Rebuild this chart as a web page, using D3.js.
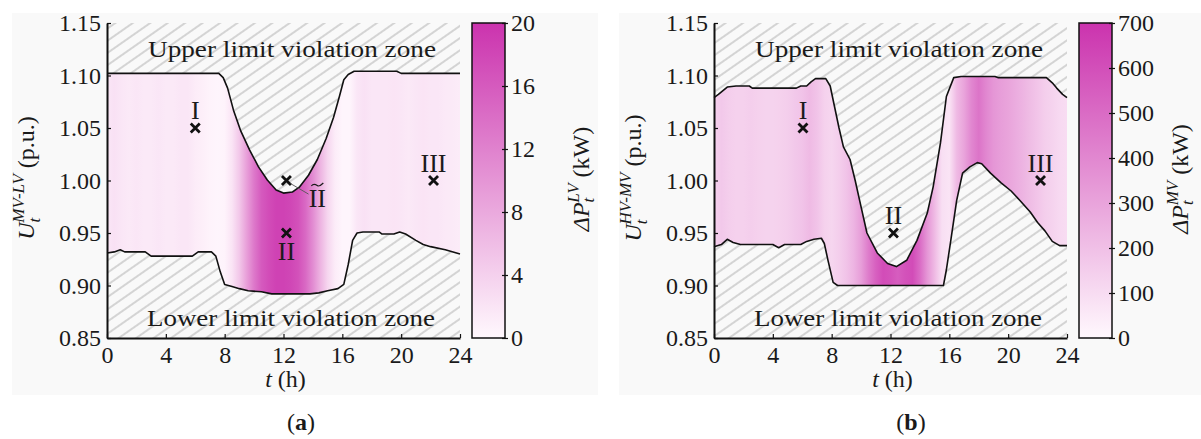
<!DOCTYPE html>
<html><head><meta charset="utf-8">
<script src="https://cdn.jsdelivr.net/npm/d3@7"></script>
<style>
body{margin:0;background:#fff}
svg{display:block}
text{font-family:"Liberation Serif","DejaVu Serif",serif;fill:#1a1a1a}
</style>
</head><body>
<svg id="c" width="1201" height="439"></svg>
<script>
// ---------------- DATA ----------------
const xTicks = [0, 4, 8, 12, 16, 20, 24];
const yTicks = [0.85, 0.90, 0.95, 1.00, 1.05, 1.10, 1.15];
const cbTicksLV = [0, 4, 8, 12, 16, 20];
const cbTicksMV = [0, 100, 200, 300, 400, 500, 600, 700];

// (a) MV-LV feasible voltage band boundaries [t (h), U (p.u.)]
const upperLV = [[0,1.102],[7.6,1.102],[7.9,1.098],[8.2,1.088],[8.6,1.067],[9.1,1.047],[9.7,1.029],[10.3,1.013],[10.9,1.0005],[11.5,0.991],[12.0,0.988],[12.6,0.989],[13.1,0.994],[13.7,1.005],[14.3,1.02],[14.9,1.04],[15.4,1.06],[15.8,1.08],[16.1,1.096],[16.4,1.101],[16.8,1.104],[19.7,1.104],[20.0,1.102],[24,1.102]];
const lowerLV = [[0,0.931],[0.5,0.932],[0.9,0.934],[1.2,0.932],[2.6,0.932],[3.0,0.928],[5.8,0.928],[6.2,0.932],[7.1,0.932],[7.4,0.928],[7.7,0.913],[8.0,0.901],[8.5,0.899],[9.0,0.897],[9.6,0.895],[10.5,0.894],[11.2,0.892],[13.8,0.892],[14.4,0.893],[15.0,0.895],[15.7,0.897],[16.1,0.901],[16.4,0.92],[16.7,0.943],[17.0,0.95],[17.4,0.951],[18.5,0.951],[18.7,0.949],[19.5,0.949],[19.9,0.951],[20.3,0.949],[21.0,0.943],[21.5,0.939],[22.0,0.937],[23.0,0.934],[24,0.930]];

// (b) HV-MV feasible voltage band boundaries
const upperMV = [[0,1.079],[0.3,1.082],[0.9,1.089],[1.5,1.09],[2.4,1.09],[2.6,1.088],[5.6,1.088],[5.9,1.09],[6.3,1.09],[6.6,1.094],[6.9,1.097],[7.6,1.097],[7.9,1.09],[8.2,1.07],[8.5,1.05],[8.8,1.032],[9.25,1.02],[9.6,1.0],[9.9,0.981],[10.4,0.95],[11.1,0.931],[11.8,0.921],[12.4,0.918],[13.1,0.924],[13.8,0.943],[14.5,0.969],[14.9,0.994],[15.4,1.036],[15.8,1.08],[16.3,1.098],[16.8,1.099],[19.1,1.099],[19.3,1.098],[22.6,1.098],[23.0,1.093],[23.3,1.088],[23.7,1.082],[24,1.079]];
const lowerMV = [[0,0.937],[0.5,0.939],[0.9,0.944],[1.3,0.941],[1.8,0.939],[4.0,0.939],[4.4,0.936],[4.8,0.939],[5.9,0.939],[6.3,0.942],[6.8,0.944],[7.3,0.945],[7.5,0.94],[7.75,0.924],[8.1,0.903],[8.4,0.900],[15.6,0.900],[15.8,0.915],[16.1,0.943],[16.5,0.981],[16.9,1.007],[17.4,1.013],[17.9,1.017],[18.2,1.016],[18.8,1.007],[19.5,0.998],[20.2,0.99],[20.8,0.981],[21.5,0.97],[22.0,0.96],[22.5,0.952],[23.0,0.942],[23.5,0.938],[24,0.938]];

// heat (power deviation) along time, every 0.5 h
const heatHours = d3.range(0, 24.01, 0.5);
const heatLV = [1.8,2.3,1.8,1.5,1.8,1.5,1.5,1.8,1.5,1.5,1.8,1.8,1.2,0.9,0.5,0.3,0.5,2,5,9,13,16,17.5,18.5,18.5,18,17,14.5,11,7,3.5,1.2,0.3,0.3,1.8,2.3,1.8,1.8,1.8,2,1.8,1.5,1.8,2,1.8,1.8,1.5,1.4,1.2];
const heatMV = [140,170,150,140,140,150,140,130,130,140,150,170,190,220,190,140,120,150,190,240,320,440,540,610,590,550,590,610,500,350,220,90,70,220,300,400,470,400,350,320,300,270,240,210,180,150,130,110,100];

// operating points
const pointsLV = [{t:6.0,u:1.05,lab:"I",pos:"above"},{t:12.2,u:1.00,lab:"",pos:"none"},{t:12.2,u:0.95,lab:"II",pos:"below"},{t:22.2,u:1.00,lab:"III",pos:"above"}];
const pointsMV = [{t:6.05,u:1.05,lab:"I",pos:"above"},{t:12.2,u:0.95,lab:"II",pos:"above"},{t:22.2,u:1.00,lab:"III",pos:"above"}];

// ---------------- DRAW ----------------
const svg = d3.select("#c");
const defs = svg.append("defs");
const pat = defs.append("pattern").attr("id","hatch").attr("patternUnits","userSpaceOnUse")
  .attr("width",10).attr("height",10).attr("patternTransform","rotate(-35)");
pat.append("line").attr("x1",0).attr("x2",10).attr("y1",5).attr("y2",5).attr("stroke","#9a9a9a").attr("stroke-width",0.8);

const colLo = "#fff8fd", colHi = "#cb33ae";
const FS = "24px";

svg.append("rect").attr("x",12).attr("y",13).attr("width",586).attr("height",382).attr("fill","#f9f9f9");
svg.append("rect").attr("x",619).attr("y",13).attr("width",582).attr("height",382).attr("fill","#f9f9f9");

function panel(cfg){
  const g = svg.append("g");
  const x = d3.scaleLinear().domain([0,24]).range([cfg.x0, cfg.x0+353]);
  const y = d3.scaleLinear().domain([0.85,1.15]).range([338,23]);
  const color = d3.scaleLinear().domain([0,cfg.cmax]).range([colLo,colHi]).interpolate(d3.interpolateRgb);

  // hatch background
  g.append("rect").attr("x",x(0)).attr("y",y(1.15)).attr("width",x(24)-x(0)).attr("height",y(0.85)-y(1.15))
    .attr("fill","url(#hatch)");

  // heat gradient
  const gid = "heat"+cfg.id;
  const grad = defs.append("linearGradient").attr("id",gid).attr("gradientUnits","userSpaceOnUse")
    .attr("x1",x(0)).attr("x2",x(24)).attr("y1",0).attr("y2",0);
  heatHours.forEach((h,i)=>grad.append("stop").attr("offset",h/24).attr("stop-color",color(cfg.heat[i])));

  // feasible band polygon
  const band = cfg.upper.map(d=>[x(d[0]),y(d[1])]).concat(cfg.lower.slice().reverse().map(d=>[x(d[0]),y(d[1])]));
  g.append("path").attr("d","M"+band.map(p=>p.join(",")).join("L")+"Z").attr("fill",`url(#${gid})`);

  const line = d3.line().x(d=>x(d[0])).y(d=>y(d[1]));
  [cfg.upper, cfg.lower].forEach(b=>g.append("path").attr("d",line(b)).attr("fill","none")
    .attr("stroke","#111").attr("stroke-width",1.6).attr("stroke-linejoin","round"));

  // zone labels
  const zx = cfg.x0 + 41;
  g.append("text").attr("x",zx).attr("y",57).style("font-size",FS)
    .attr("textLength",288).attr("lengthAdjust","spacingAndGlyphs").text("Upper limit violation zone");
  g.append("text").attr("x",zx-1).attr("y",326).style("font-size",FS)
    .attr("textLength",288).attr("lengthAdjust","spacingAndGlyphs").text("Lower limit violation zone");

  // axes
  const ax = g.append("g").attr("transform",`translate(0,${y(0.85)})`)
    .call(d3.axisBottom(x).tickValues(xTicks).tickSizeInner(-4).tickSizeOuter(0).tickPadding(8).tickFormat(d3.format("d")));
  const ay = g.append("g").attr("transform",`translate(${x(0)},0)`)
    .call(d3.axisLeft(y).tickValues(yTicks).tickSizeInner(-4).tickSizeOuter(0).tickPadding(6).tickFormat(d3.format(".2f")));
  [ax,ay].forEach(a=>{
    a.select(".domain").attr("stroke","#111").attr("stroke-width",2);
    a.selectAll(".tick line").attr("stroke","#111").attr("stroke-width",1.2);
    a.selectAll("text").style("font-size",FS).attr("fill","#1a1a1a").attr("font-family","Liberation Serif");
  });
  ax.selectAll("text").attr("dy","0.71em").attr("y",8);

  // points
  cfg.points.forEach(p=>{
    const px = x(p.t), py = y(p.u);
    g.append("path").attr("d",`M${px-4.5},${py-4.5}L${px+4.5},${py+4.5}M${px-4.5},${py+4.5}L${px+4.5},${py-4.5}`)
      .attr("stroke","#111").attr("stroke-width",2.8);
    if(p.pos==="above") g.append("text").attr("x",px).attr("y",py-9).attr("text-anchor","middle").style("font-size","26px").text(p.lab);
    if(p.pos==="below") g.append("text").attr("x",px).attr("y",py+27).attr("text-anchor","middle").style("font-size","26px").text(p.lab);
  });

  // axis titles
  const xl = g.append("text").attr("x",x(12)+2).attr("y",387).attr("text-anchor","middle").style("font-size",FS);
  xl.append("tspan").attr("font-style","italic").text("t");
  xl.append("tspan").text(" (h)");
  g.append("text").attr("x",cfg.panelX).attr("y",430).attr("text-anchor","middle").style("font-size",FS)
    .html('(<tspan font-weight="bold">'+cfg.tag+'</tspan>)');

  const yl = g.append("text").attr("transform",`translate(${cfg.ylx},178) rotate(-90)`).attr("text-anchor","middle").style("font-size",FS);
  yl.append("tspan").attr("font-style","italic").text("U");
  yl.append("tspan").attr("font-style","italic").attr("font-size","17px").attr("dy",6).text("t");
  yl.append("tspan").attr("font-style","italic").attr("font-size","17px").attr("dx",-5).attr("dy",-16).text(cfg.ysup);
  yl.append("tspan").attr("dy",10).text(" (p.u.)");

  // colorbar
  const cbx = cfg.cbx, cbw = 33;
  const cgid = "cb"+cfg.id;
  const cg = defs.append("linearGradient").attr("id",cgid).attr("x1",0).attr("x2",0).attr("y1",1).attr("y2",0);
  cg.append("stop").attr("offset",0).attr("stop-color",colLo);
  cg.append("stop").attr("offset",1).attr("stop-color",colHi);
  g.append("rect").attr("x",cbx).attr("y",23).attr("width",cbw).attr("height",315).attr("fill",`url(#${cgid})`)
    .attr("stroke","#111").attr("stroke-width",1.5);
  const cs = d3.scaleLinear().domain([0,cfg.cmax]).range([338,23]);
  const ac = g.append("g").attr("transform",`translate(${cbx+cbw},0)`)
    .call(d3.axisRight(cs).tickValues(cfg.cbTicks).tickSize(3).tickPadding(3));
  ac.select(".domain").remove();
  ac.selectAll(".tick line").attr("stroke","#111").attr("stroke-width",1.2).attr("x1",-3);
  ac.selectAll("text").style("font-size",FS).attr("fill","#1a1a1a").attr("font-family","Liberation Serif");

  const cl = g.append("text").attr("transform",`translate(${cfg.clx},179) rotate(-90)`).attr("text-anchor","middle").style("font-size",FS);
  cl.append("tspan").attr("font-style","italic").text("ΔP");
  cl.append("tspan").attr("font-style","italic").attr("font-size","17px").attr("dy",5).text("t");
  cl.append("tspan").attr("font-style","italic").attr("font-size","17px").attr("dx",-5).attr("dy",-15).text(cfg.csup);
  cl.append("tspan").attr("dy",10).text(" (kW)");
  return {x,y,g};
}

const A = panel({id:"a",x0:107,upper:upperLV,lower:lowerLV,heat:heatLV,cmax:20,points:pointsLV,
  panelX:301,tag:"a",ylx:34,ysup:"MV-LV",cbx:472,cbTicks:cbTicksLV,clx:589,csup:"LV"});
const B = panel({id:"b",x0:714,upper:upperMV,lower:lowerMV,heat:heatMV,cmax:700,points:pointsMV,
  panelX:911,tag:"b",ylx:641,ysup:"HV-MV",cbx:1079,cbTicks:cbTicksMV,clx:1188,csup:"MV"});

// tilde-II annotation in panel (a)
A.g.append("line").attr("x1",A.x(12.2)+4).attr("y1",A.y(1.0)+3).attr("x2",A.x(13.7)).attr("y2",A.y(0.988)+1)
  .attr("stroke","#555").attr("stroke-width",0.9);
A.g.append("text").attr("x",A.x(14.3)).attr("y",207).attr("text-anchor","middle").style("font-size","26px").text("II");
const tx = A.x(14.3);
A.g.append("path").attr("d",`M${tx-6},${186}C${tx-3},${182} ${tx},${186} ${tx+1},${186}S${tx+5},${184} ${tx+6},${183}`)
  .attr("fill","none").attr("stroke","#1a1a1a").attr("stroke-width",1.2);
</script>
</body></html>
